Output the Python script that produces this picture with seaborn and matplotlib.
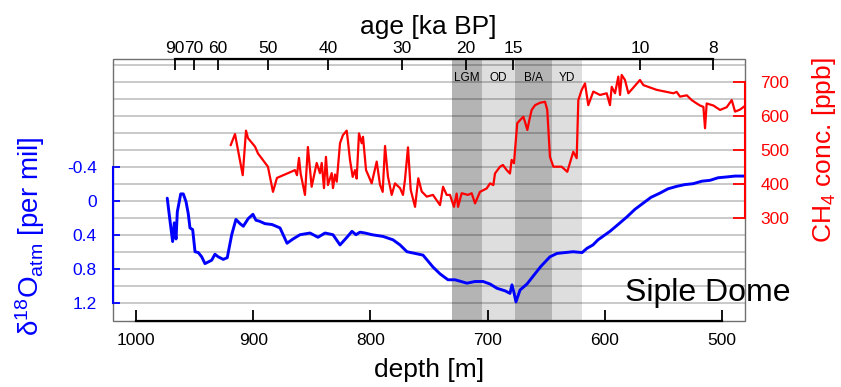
import matplotlib
matplotlib.use("Agg")
import matplotlib.pyplot as plt
import seaborn as sns
import pandas as pd
from matplotlib.patches import Rectangle
from matplotlib.ticker import FixedLocator

# ---------------- data ----------------
d18o_depth = [973.3, 971.0, 968.7, 967.3, 965.8, 964.7, 961.8, 959.6, 957.3, 955.4,
              953.9, 951.6, 949.6, 946.8, 943.9, 941.1, 938.3, 935.4, 932.6, 929.8,
              925.5, 922.1, 918.3, 914.7, 911.2, 908.4, 904.2, 900.2, 897.6, 894.8,
              889.9, 883.9, 877.1, 871.1, 866.0, 860.0, 851.5, 844.7, 838.7, 831.9,
              825.9, 820.0, 815.7, 812.3, 808.9, 804.6, 798.6, 789.2, 780.7, 774.7,
              768.8, 761.9, 755.1, 746.6, 740.6, 733.8, 727.8, 717.6, 710.7, 703.9,
              697.9, 692.0, 685.1, 680.9, 679.2, 677.5, 675.8, 672.3, 666.4, 661.3,
              654.4, 646.8, 640.8, 634.0, 627.1, 619.4, 615.2, 610.1, 605.8, 595.6,
              588.7, 581.1, 574.2, 567.4, 560.6, 552.9, 546.1, 538.4, 531.6, 524.7,
              517.1, 510.2, 503.4, 495.7, 488.9, 480.4]
d18o_vals = [-0.03, 0.23, 0.48, 0.26, 0.45, 0.13, -0.08, -0.08, 0.01, 0.15,
             0.32, 0.34, 0.60, 0.61, 0.66, 0.74, 0.72, 0.70, 0.63, 0.66,
             0.69, 0.67, 0.40, 0.22, 0.27, 0.30, 0.21, 0.16, 0.23, 0.24,
             0.27, 0.28, 0.32, 0.50, 0.45, 0.40, 0.38, 0.43, 0.38, 0.40,
             0.52, 0.43, 0.36, 0.40, 0.37, 0.38, 0.40, 0.42, 0.46, 0.52,
             0.60, 0.62, 0.64, 0.78, 0.86, 0.93, 0.93, 0.97, 0.95, 0.95,
             0.98, 1.03, 1.06, 1.09, 0.99, 1.08, 1.19, 1.05, 0.98, 0.89,
             0.77, 0.66, 0.62, 0.61, 0.60, 0.61, 0.56, 0.52, 0.46, 0.36,
             0.28, 0.19, 0.10, 0.03, -0.04, -0.09, -0.14, -0.17, -0.19, -0.20,
             -0.23, -0.24, -0.27, -0.28, -0.29, -0.29]

ch4_depth = [919.2, 915.5, 908.9, 906.1, 904.4, 898.4, 895.9, 887.4, 883.1, 879.7,
             864.3, 862.6, 860.9, 859.5, 855.8, 853.3, 850.1, 845.8, 843.0, 841.5,
             839.6, 837.9, 836.2, 833.0, 831.9, 830.2, 828.7, 825.9, 823.4, 820.2,
             819.1, 817.4, 815.1, 813.1, 811.7, 809.7, 807.4, 806.3, 803.7, 801.8,
             798.9, 794.6, 791.8, 789.5, 787.5, 785.0, 781.8, 779.0, 774.7, 772.2,
             770.5, 767.9, 765.6, 761.9, 759.1, 756.2, 751.9, 746.6, 740.6, 738.0,
             734.9, 732.1, 728.7, 726.4, 725.2, 722.1, 716.7, 713.6, 710.7, 706.5,
             700.8, 697.9, 695.1, 693.7, 689.4, 686.9, 683.7, 680.9, 679.5, 677.5,
             674.7, 672.3, 669.5, 668.1, 666.1, 664.4, 662.4, 659.5, 655.3, 651.0,
             649.1, 646.8, 643.9, 636.8, 632.0, 626.9, 624.0, 622.6, 619.7, 616.9,
             614.1, 609.8, 604.1, 598.4, 595.6, 594.1, 591.3, 588.5, 587.0, 585.6,
             582.8, 579.9, 570.0, 567.1, 555.7, 541.6, 538.7, 535.8, 530.1, 525.9,
             521.6, 518.8, 515.9, 514.5, 513.1, 507.4, 501.7, 496.0, 491.7, 488.9,
             484.6, 480.4]
ch4_vals = [513, 546, 425, 556, 534, 509, 489, 450, 376, 417,
            440, 425, 476, 430, 367, 508, 391, 461, 431, 461,
            387, 479, 396, 431, 387, 427, 406, 519, 543, 556,
            524, 470, 420, 440, 415, 548, 519, 538, 440, 425,
            401, 465, 397, 376, 511, 421, 367, 401, 387, 367,
            411, 507, 382, 332, 416, 377, 362, 367, 337, 391,
            367, 367, 332, 371, 332, 372, 367, 372, 342, 376,
            386, 401, 396, 430, 450, 455, 440, 430, 470, 460,
            578, 587, 597, 582, 558, 587, 617, 631, 638, 641,
            617, 479, 450, 450, 435, 494, 475, 646, 676, 695,
            631, 671, 661, 666, 631, 685, 666, 715, 661, 720,
            705, 666, 705, 690, 676, 666, 670, 656, 660, 646,
            636, 630, 626, 563, 636, 630, 617, 625, 646, 612,
            618, 629]

age_labels = ["90", "70", "60", "50", "40", "30", "20", "15", "10", "8"]
age_depths = [966.9, 950.5, 929.8, 887.4, 836.2, 773.3, 718.4, 678.0, 570.0, 507.4]

band_names = ["LGM", "OD", "B/A", "YD"]
band_start = [730.6, 704.5, 676.6, 644.8]
band_end = [704.5, 676.6, 644.8, 619.7]
band_colors = ["#b4b4b4", "#dedede", "#b4b4b4", "#dedede"]

depth_ticks = [1000, 900, 800, 700, 600, 500]
d18o_ticks = [-0.4, 0, 0.4, 0.8, 1.2]
d18o_tick_labels = ["-0.4", "0", "0.4", "0.8", "1.2"]
grid_levels = [-1.6, -1.4, -1.2, -1.0, -0.8, -0.6, -0.4, -0.2, 0.0, 0.2, 0.4,
               0.6, 0.8, 1.0, 1.2]
ch4_ticks = [300, 400, 500, 600, 700]

# ---------------- style ----------------
sns.set_theme(style="white")
plt.rcParams["font.family"] = ["Liberation Sans", "DejaVu Sans"]
plt.rcParams["mathtext.fontset"] = "custom"
plt.rcParams["mathtext.rm"] = "Liberation Sans"
plt.rcParams["mathtext.it"] = "Liberation Sans:italic"
plt.rcParams["mathtext.default"] = "regular"
plt.rcParams["text.color"] = "black"
plt.rcParams["xtick.color"] = "black"
plt.rcParams["ytick.color"] = "black"

BLUE = "#0000ff"
RED = "#ff0000"
TICK_FS = 12.5
TITLE_FS = 19

W, H = 841, 387
fig = plt.figure(figsize=(W / 100, H / 100), dpi=100)
L, R, T, B = 112.5, 745.0, 59.0, 320.5
ax = fig.add_axes([L / W, 1 - B / H, (R - L) / W, (B - T) / H])

# shaded periods
for s, e, c in zip(band_start, band_end, band_colors):
    ax.axvspan(s, e, color=c, lw=0, zorder=0)
for s, e, n in zip(band_start, band_end, band_names):
    ax.text((s + e) / 2, -1.44, n, ha="center", va="center", fontsize=8.5,
            color="black", zorder=3)

df_o = pd.DataFrame({"depth": d18o_depth, "d18O": d18o_vals})
sns.lineplot(data=df_o, x="depth", y="d18O", ax=ax, color=BLUE, lw=2.1,
             estimator=None, sort=False, zorder=4)
ax.set_xlim(1020, 480.4)
ax.set_ylim(1.409, -1.667)
ax.set_xlabel("")
ax.set_ylabel("")

# grid lines
ax.yaxis.set_minor_locator(FixedLocator(grid_levels))
ax.grid(False)
ax.grid(True, axis="y", which="both", color="black", alpha=0.27, lw=1.1, zorder=1)

ax.set_xticks(depth_ticks)
ax.set_xticklabels([str(t) for t in depth_ticks])
ax.set_yticks(d18o_ticks)
ax.set_yticklabels(d18o_tick_labels)
ax.tick_params(axis="x", which="major", bottom=True, top=False, direction="in",
               length=8, width=1.3, color="black", pad=9.0, labelsize=TICK_FS,
               labelcolor="black")
ax.tick_params(axis="y", which="major", left=True, right=False, direction="in",
               length=5, width=1.3, color=BLUE, pad=11.3, labelsize=TICK_FS,
               labelcolor=BLUE)
ax.tick_params(axis="y", which="minor", left=False, right=False, length=0)

for sp in ["top", "right"]:
    ax.spines[sp].set_visible(False)
ax.spines["left"].set_bounds(-0.4, 1.2)
ax.spines["left"].set_color(BLUE)
ax.spines["left"].set_linewidth(1.5)
ax.spines["bottom"].set_bounds(500, 1000)
ax.spines["bottom"].set_color("black")
ax.spines["bottom"].set_linewidth(1.6)
ax.add_patch(Rectangle((0, 0), 1, 1, transform=ax.transAxes, fill=False,
                       ec="#707070", lw=1.0, clip_on=False, zorder=2))

# CH4 on right axis
ax2 = ax.twinx()
df_c = pd.DataFrame({"depth": ch4_depth, "CH4": ch4_vals})
sns.lineplot(data=df_c, x="depth", y="CH4", ax=ax2, color=RED, lw=1.6,
             estimator=None, sort=False)
ax2.set_ylim(-2.4, 766.8)
ax2.set_xlim(1020, 480.4)
ax2.set_ylabel("")
ax2.set_xlabel("")
ax2.grid(False)
ax2.set_yticks(ch4_ticks)
ax2.tick_params(axis="y", right=True, left=False, direction="in", length=9,
                width=1.3, color=RED, labelcolor=RED, pad=11.0, labelsize=TICK_FS)
for sp in ["top", "left", "bottom"]:
    ax2.spines[sp].set_visible(False)
ax2.spines["right"].set_bounds(300, 700)
ax2.spines["right"].set_color(RED)
ax2.spines["right"].set_linewidth(1.5)

# age axis on top
ax3 = ax.twiny()
ax3.set_xlim(1020, 480.4)
ax3.grid(False)
ax3.set_xticks(age_depths)
ax3.set_xticklabels(age_labels)
ax3.tick_params(axis="x", top=True, bottom=False, direction="in", length=8,
                width=1.3, color="black", labelcolor="black", pad=2.5,
                labelsize=TICK_FS)
for sp in ["bottom", "left", "right"]:
    ax3.spines[sp].set_visible(False)
ax3.spines["top"].set_bounds(min(age_depths), max(age_depths))
ax3.spines["top"].set_color("black")
ax3.spines["top"].set_linewidth(1.6)

# axis titles
cx = (L + R) / 2 / W
fig.text(cx, 1 - 34 / H, "age [ka BP]", ha="center", va="baseline",
         fontsize=TITLE_FS, color="black")
fig.text(cx, 1 - 377 / H, "depth [m]", ha="center", va="baseline",
         fontsize=TITLE_FS, color="black")
ax.annotate("δ$^{18}$O$_{atm}$ [per mil]", xy=(30 / W, 0.42),
            xycoords=("figure fraction", "data"), rotation=90, ha="center",
            va="center", color=BLUE, fontsize=20, annotation_clip=False)
ax2.annotate("CH$_4$ conc. [ppb]", xy=(824 / W, 500),
             xycoords=("figure fraction", "data"), rotation=90, ha="center",
             va="center", color=RED, fontsize=TITLE_FS, annotation_clip=False)

ax3.text(582.8, 1.176, "Siple Dome", transform=ax.transData, ha="left",
         va="baseline", fontsize=23, color="black", clip_on=False, zorder=10)

fig.savefig("out.png", dpi=100)
